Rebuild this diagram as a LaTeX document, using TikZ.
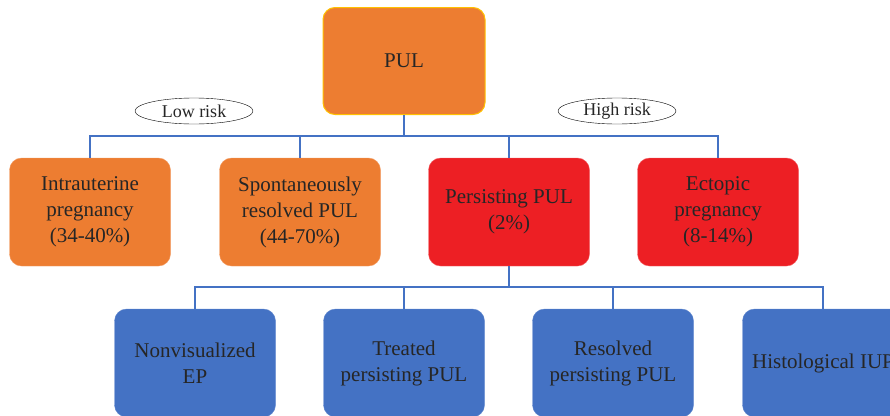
\documentclass[tikz,border=0pt]{standalone}
\usepackage{fontspec}
\setmainfont{Liberation Serif}
\usetikzlibrary{shapes.geometric}
\definecolor{pulorange}{HTML}{ED7D31}
\definecolor{pulyellow}{HTML}{FFC000}
\definecolor{riskred}{HTML}{ED1F24}
\definecolor{subblue}{HTML}{4472C4}
\definecolor{txtgray}{HTML}{262626}
\tikzset{
  box/.style={rounded corners=12pt, minimum width=161pt, minimum height=108pt,
    align=center, text=txtgray, inner sep=0pt,
    font=\fontsize{21}{26}\selectfont},
  lowbox/.style={box, fill=pulorange, draw=pulorange!75!white},
  highbox/.style={box, fill=riskred, draw=riskred!70!white},
  subbox/.style={box, fill=subblue, draw=subblue!85!white},
  tag/.style={ellipse, draw=black, fill=white, minimum width=118pt,
    minimum height=26pt, inner sep=0pt, text=txtgray,
    font=\fontsize{18}{20}\selectfont},
  link/.style={draw=subblue, line width=1.5pt},
}

\begin{document}
\begin{tikzpicture}[x=1pt,y=-1pt]
   \useasboundingbox (0,0) rectangle (890,415);
   \clip (0,0) rectangle (890,415);
   % top
   \node[lowbox, draw=pulyellow, line width=1pt, minimum width=162pt,
     minimum height=107pt] (pul) at (404,61) {PUL};
   \node[tag] (low) at (194,111) {Low risk};
   \node[tag] (high) at (617,111) {High risk};
   % second row
   \node[lowbox] (iup) at (90,212) {Intrauterine\\pregnancy\\(34-40\%)};
   \node[lowbox] (spont) at (300,212) {Spontaneously\\resolved PUL\\(44-70\%)};
   \node[highbox] (pers) at (509,212) {Persisting PUL\\(2\%)};
   \node[highbox] (ectopic) at (718,212) {Ectopic\\pregnancy\\(8-14\%)};
   % third row
   \node[subbox] (nonvis) at (195,363) {Nonvisualized\\EP};
   \node[subbox] (treated) at (404,363) {Treated\\persisting PUL};
   \node[subbox] (resolved) at (613,363) {Resolved\\persisting PUL};
   \node[subbox] (histo) at (823,363) {Histological IUP};
   % connectors
   \draw[link] (pul.south) -- ++(0,21) coordinate (split);
   \foreach \n in {iup,spont,pers,ectopic}
     \draw[link] (split) -| (\n.north);
   \draw[link] (pers.south) -- ++(0,21) coordinate (split2);
   \foreach \n in {nonvis,treated,resolved,histo}
     \draw[link] (split2) -| (\n.north);
\end{tikzpicture}
\end{document}
